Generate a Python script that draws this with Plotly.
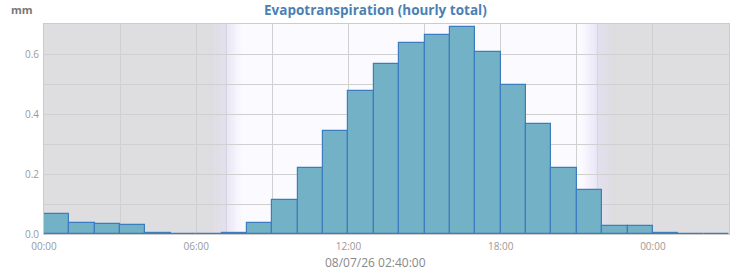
import plotly.graph_objects as go

# ---- data ----
hours = list(range(27))  # hour index starting 00:00 of the day
et_mm = [0.066, 0.037, 0.033, 0.030, 0.003, 0.001, 0.0, 0.002, 0.038, 0.112,
         0.219, 0.342, 0.476, 0.567, 0.636, 0.662, 0.689, 0.606, 0.496, 0.366,
         0.219, 0.146, 0.026, 0.026, 0.002, 0.0005, 0.0005]
x_tick_vals = [0, 3, 6, 9, 12, 15, 18, 21, 24, 27]
x_tick_text = ["00:00", "", "06:00", "", "12:00", "", "18:00", "", "00:00", ""]
y_tick_vals = [0.0, 0.1, 0.2, 0.3, 0.4, 0.5, 0.6, 0.7]
y_tick_text = ["0.0", "", "0.2", "", "0.4", "", "0.6", ""]
sunrise_h = 7.19
sunset_h = 21.81
title_text = "Evapotranspiration (hourly total)"
unit_text = "mm"
stamp_text = "08/07/26 02:40:00"

# ---- styles ----
night = (222, 222, 225)
twilight = (228, 224, 243)
day = (251, 250, 255)
fade = 0.62


def mix(c1, c2, t):
    return "rgb(%d,%d,%d)" % tuple(round(a + (b - a) * t) for a, b in zip(c1, c2))


shapes = []
shapes.append(dict(type="rect", xref="x", yref="paper", x0=0, x1=27, y0=0, y1=1,
                   fillcolor=mix(night, night, 0), line_width=0, layer="below"))
shapes.append(dict(type="rect", xref="x", yref="paper", x0=sunrise_h, x1=sunset_h, y0=0, y1=1,
                   fillcolor=mix(day, day, 0), line_width=0, layer="below"))
steps = 24
for centre, direction in ((sunrise_h, 1), (sunset_h, -1)):
    for i in range(steps):
        a = centre - direction * fade * (1 - i / steps)
        b = centre - direction * fade * (1 - (i + 1) / steps)
        shapes.append(dict(type="rect", xref="x", yref="paper", x0=min(a, b), x1=max(a, b),
                           y0=0, y1=1, fillcolor=mix(night, twilight, (i + 0.5) / steps),
                           line_width=0, layer="below"))
        a = centre + direction * fade * (i / steps)
        b = centre + direction * fade * ((i + 1) / steps)
        shapes.append(dict(type="rect", xref="x", yref="paper", x0=min(a, b), x1=max(a, b),
                           y0=0, y1=1, fillcolor=mix(twilight, day, (i + 0.5) / steps),
                           line_width=0, layer="below"))
for h in (sunrise_h, sunset_h):
    shapes.append(dict(type="line", xref="x", yref="paper", x0=h, x1=h, y0=0, y1=1,
                       line=dict(color="rgb(215,212,222)", width=1), layer="below"))

fig = go.Figure()
fig.add_trace(go.Bar(
    x=[h + 0.5 for h in hours], y=et_mm, width=1.0,
    marker=dict(color="#72b1c6", line=dict(color="#3b7dbf", width=1.2)),
    hoverinfo="skip",
))

fig.update_layout(
    width=750, height=270,
    margin=dict(l=44, r=21, t=24, b=36),
    paper_bgcolor="white", plot_bgcolor="rgba(0,0,0,0)",
    font=dict(family="Open Sans", color="#999999", size=10),
    showlegend=False, bargap=0,
    shapes=shapes,
    annotations=[
        dict(text="<b>" + title_text + "</b>", xref="paper", yref="paper",
             x=(375.5 - 44) / 685, y=1, xanchor="center", yanchor="bottom", yshift=3,
             showarrow=False, font=dict(family="Open Sans", size=13.5, color="#4a80b3")),
        dict(text="<b>" + unit_text + "</b>", xref="paper", yref="paper",
             x=(22 - 44) / 685, y=1, xanchor="center", yanchor="bottom", yshift=5,
             showarrow=False, font=dict(family="Open Sans", size=11, color="#777777")),
        dict(text=stamp_text, xref="paper", yref="paper", x=(375 - 44) / 685, xanchor="center",
             y=-0.085, yanchor="top", showarrow=False,
             font=dict(family="Open Sans", size=12, color="#888888")),
    ],
)
fig.update_xaxes(range=[0, 27], tickvals=x_tick_vals, ticktext=x_tick_text,
                 showgrid=True, gridcolor="#d0d0d0", gridwidth=1, zeroline=False,
                 showline=True, linecolor="#cccccc", mirror=True, ticks="",
                 ticklabelstandoff=3,
                 tickfont=dict(size=10, color="#999999"), fixedrange=True)
fig.update_yaxes(range=[0, 0.7], tickvals=y_tick_vals, ticktext=y_tick_text,
                 showgrid=True, gridcolor="#d0d0d0", gridwidth=1, zeroline=False,
                 showline=True, linecolor="#cccccc", mirror=True, ticks="",
                 ticklabelstandoff=2,
                 tickfont=dict(size=10, color="#999999"), fixedrange=True)

fig.write_html("out.html")
